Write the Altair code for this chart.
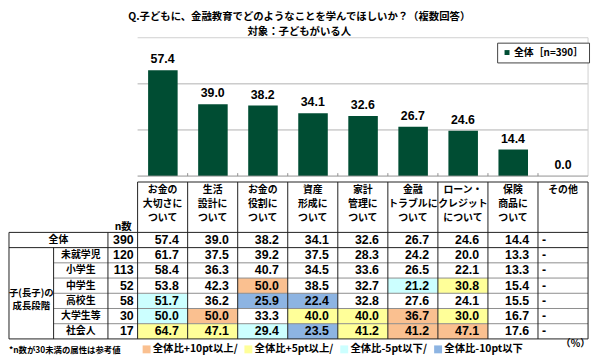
import altair as alt
import pandas as pd

# ---------------- data ----------------
categories = ["お金の\n大切さに\nついて", "生活\n設計に\nついて", "お金の\n役割に\nついて",
              "資産\n形成に\nついて", "家計\n管理に\nついて", "金融\nトラブルに\nついて",
              "ローン・\nクレジット\nについて", "保険\n商品に\nついて", "その他"]
overall = [57.4, 39.0, 38.2, 34.1, 32.6, 26.7, 24.6, 14.4, 0.0]
series_label = "全体［n=390］"
y_ticks = [0, 25, 50, 75]

row_labels = ["全体", "未就学児", "小学生", "中学生", "高校生", "大学生等", "社会人"]
n_counts = [390, 120, 113, 52, 58, 30, 17]
table_values = [
    [57.4, 39.0, 38.2, 34.1, 32.6, 26.7, 24.6, 14.4, None],
    [61.7, 37.5, 39.2, 37.5, 28.3, 24.2, 20.0, 13.3, None],
    [58.4, 36.3, 40.7, 34.5, 33.6, 26.5, 22.1, 13.3, None],
    [53.8, 42.3, 50.0, 38.5, 32.7, 21.2, 30.8, 15.4, None],
    [51.7, 36.2, 25.9, 22.4, 32.8, 27.6, 24.1, 15.5, None],
    [50.0, 50.0, 33.3, 40.0, 40.0, 36.7, 30.0, 16.7, None],
    [64.7, 47.1, 29.4, 23.5, 41.2, 41.2, 47.1, 17.6, None],
]
group_label = "子(長子)の\n成長段階"
n_header = "n数"
footnote = "*n数が30未満の属性は参考値"
unit_note = "（%）"
legend_levels = ["全体比+10pt以上/", "全体比+5pt以上/", "全体比-5pt以下/", "全体比-10pt以下"]
legend_colors = ["#FAC090", "#FFFF99", "#CCFFFF", "#8DB4E2"]
title_text = "Q.子どもに、金融教育でどのようなことを学んでほしいか？（複数回答）"
subtitle_text = "対象：子どもがいる人"

# ---------------- layout / style ----------------
JP = "Noto Sans CJK JP"
NUM = "Liberation Sans"
BAR_COLOR = "#004D33"
NCOL = len(categories)
COLW = 50.65
W = 586
XMIN = -(W - COLW * NCOL) / COLW
XMAX = NCOL
X_GROUP_END = -85 / COLW
X_ROWLAB_END = -30 / COLW
TOP_H = 140
BOT_H = 180
RH = 15.4
HEAD_GAP = 56
YMIN = -HEAD_GAP / RH
YMAX = (BOT_H - HEAD_GAP) / RH
HEADER_TOP = -51 / RH
HEADER_TEXT = -48 / RH
NHEAD_Y = -5 / RH
FOOT_Y = 119 / RH
UNIT_Y = 113 / RH

xscale = alt.Scale(domain=[XMIN, XMAX], nice=False, zero=False)
yscale_top = alt.Scale(domain=[0, 75], nice=False, zero=False)
yscale_bot = alt.Scale(domain=[YMIN, YMAX], nice=False, zero=False, reverse=True)


def X(f):
    return alt.X(f, type="quantitative", scale=xscale, axis=None)


def YT(f):
    return alt.Y(f, type="quantitative", scale=yscale_top, axis=None)


def YB(f):
    return alt.Y(f, type="quantitative", scale=yscale_bot, axis=None)


# ---------------- top: bar chart ----------------
bars_df = pd.DataFrame({"idx": list(range(NCOL)), "value": overall,
                        "series": [series_label] * NCOL})

bars = alt.Chart(bars_df).transform_calculate(
    bx0="datum.idx + 0.21", bx1="datum.idx + 0.80"
).mark_bar(color=BAR_COLOR).encode(
    x=X("bx0"), x2="bx1:Q",
    y=alt.Y("value:Q", scale=yscale_top,
            axis=alt.Axis(values=y_ticks, offset=-130, labelExpr="datum.value + '%'",
                          grid=False, domainColor="#A0A0A0", tickColor="#A0A0A0",
                          tickSize=4, labelPadding=3, labelFont=NUM, labelFontSize=11,
                          labelFontWeight="bold", labelColor="black", title=None)),
    y2=alt.datum(0),
    color=alt.Color("series:N", scale=alt.Scale(range=[BAR_COLOR]),
                    legend=alt.Legend(title=None, orient="none", legendX=494, legendY=5,
                                      strokeColor="#404040", fillColor="white", padding=5,
                                      symbolType="square", symbolSize=25, symbolStrokeWidth=0,
                                      labelFont=JP, labelFontSize=10, labelFontWeight="bold",
                                      labelColor="black", labelOffset=2)),
)

bar_labels = alt.Chart(bars_df).transform_calculate(cx="datum.idx + 0.5").mark_text(
    font=NUM, fontSize=12.5, fontWeight="bold", dy=-11, baseline="middle", color="black"
).encode(x=X("cx"), y=YT("value"), text=alt.Text("value:Q", format=".1f"))

grid_df = pd.DataFrame({"v": y_ticks[1:-1], "x0": 0, "x1": NCOL})
grid = alt.Chart(grid_df).mark_rule(color="#B0B0B0", strokeWidth=1).encode(
    x=X("x0"), x2="x1:Q", y=YT("v"))

frame_df = pd.DataFrame({"x0": [0, NCOL], "x1": [NCOL, NCOL],
                         "y0": [y_ticks[-1], 0], "y1": [y_ticks[-1], y_ticks[-1]]})
frame = alt.Chart(frame_df).mark_rule(color="#D0D0D0", strokeWidth=1).encode(
    x=X("x0"), x2="x1:Q", y=YT("y0"), y2="y1:Q")

base_df = pd.DataFrame({"x0": [0], "x1": [NCOL], "y": [0]})
baseline_rule = alt.Chart(base_df).mark_rule(color="#909090", strokeWidth=1).encode(
    x=X("x0"), x2="x1:Q", y=YT("y"))

ticks_df = pd.DataFrame({"b": list(range(1, NCOL)), "y0": 0, "y1": 1.6})
xticks = alt.Chart(ticks_df).mark_rule(color="#909090").encode(
    x=X("b"), y=YT("y0"), y2="y1:Q")

top = alt.layer(grid, frame, bars, baseline_rule, xticks, bar_labels).properties(
    width=W, height=TOP_H)

# ---------------- bottom: table ----------------
cells = []
hl = []
for r, (lab, row) in enumerate(zip(row_labels, table_values)):
    for c, v in enumerate(row):
        cells.append({"r": r, "c": c, "txt": "-" if v is None else f"{v:.1f}",
                      "isdash": v is None})
        if r > 0 and v is not None:
            d = round(v - table_values[0][c], 1)
            lvl = None
            if d >= 10:
                lvl = legend_levels[0]
            elif d >= 5:
                lvl = legend_levels[1]
            elif d <= -10:
                lvl = legend_levels[3]
            elif d <= -5:
                lvl = legend_levels[2]
            if lvl:
                hl.append({"r": r, "c": c, "level": lvl})
cells_df = pd.DataFrame(cells)
hl_df = pd.DataFrame(hl)

highlight = alt.Chart(hl_df).transform_calculate(
    c1="datum.c + 1", r1="datum.r + 1"
).mark_rect(strokeWidth=0).encode(
    x=X("c"), x2="c1:Q", y=YB("r"), y2="r1:Q",
    color=alt.Color("level:N", scale=alt.Scale(domain=legend_levels, range=legend_colors),
                    legend=alt.Legend(title=None, orient="none", direction="horizontal",
                                      columns=4, legendX=134, legendY=169, padding=0,
                                      symbolType="square", symbolSize=64, symbolStrokeWidth=0,
                                      labelFont=JP, labelFontSize=10.5, labelFontWeight="bold",
                                      labelColor="black", labelOffset=1, columnPadding=5,
                                      labelLimit=200)),
)

# grid lines of the table
nrows = len(row_labels)
dark = []
light = []
# verticals
dark.append((XMIN, XMIN, 0, nrows))
dark.append((X_GROUP_END, X_GROUP_END, 1, nrows))
dark.append((X_ROWLAB_END, X_ROWLAB_END, 0, nrows))
for b in range(0, NCOL + 1):
    dark.append((b, b, HEADER_TOP, nrows))
# horizontals
dark.append((0, NCOL, HEADER_TOP, HEADER_TOP))
dark.append((XMIN, NCOL, 0, 0))
dark.append((XMIN, NCOL, 1, 1))
dark.append((XMIN, NCOL, nrows, nrows))
for r in range(2, nrows):
    light.append((X_GROUP_END, NCOL, r, r))
dark_df = pd.DataFrame(dark, columns=["x0", "x1", "y0", "y1"])
light_df = pd.DataFrame(light, columns=["x0", "x1", "y0", "y1"])
lines_light = alt.Chart(light_df).mark_rule(color="#8C8C8C", strokeWidth=1).encode(
    x=X("x0"), x2="x1:Q", y=YB("y0"), y2="y1:Q")
lines_dark = alt.Chart(dark_df).mark_rule(color="#202020", strokeWidth=1).encode(
    x=X("x0"), x2="x1:Q", y=YB("y0"), y2="y1:Q")

head_df = pd.DataFrame({"idx": list(range(NCOL)), "label": categories, "y": HEADER_TEXT})
head_text = alt.Chart(head_df).transform_calculate(cx="datum.idx + 0.5").mark_text(
    font=JP, fontSize=10, fontWeight="bold", lineBreak="\n", lineHeight=14,
    baseline="top", align="center", color="black"
).encode(x=X("cx"), y=YB("y"), text="label:N")

nhead = alt.Chart(pd.DataFrame({"x": [0], "y": [NHEAD_Y], "t": [n_header]})).mark_text(
    font=JP, fontSize=10.5, fontWeight="bold", align="right", dx=-6, baseline="middle",
    color="black").encode(x=X("x"), y=YB("y"), text="t:N")

rows_df = pd.DataFrame({"r": list(range(nrows)), "label": row_labels, "n": n_counts})
rows_df["x"] = [(XMIN + X_ROWLAB_END) / 2] + [(X_GROUP_END + X_ROWLAB_END) / 2] * (nrows - 1)
rows_df["ym"] = rows_df["r"] + 0.5
rows_df["xn"] = 0
row_text = alt.Chart(rows_df).mark_text(
    font=JP, fontSize=10, fontWeight="bold", baseline="middle", align="center",
    color="black").encode(x=X("x"), y=YB("ym"), text="label:N")
n_text = alt.Chart(rows_df).mark_text(
    font=NUM, fontSize=12.5, fontWeight="bold", baseline="middle", align="right", dx=-4,
    color="black").encode(x=X("xn"), y=YB("ym"), text="n:Q")

grp_df = pd.DataFrame({"x": [(XMIN + X_GROUP_END) / 2], "y": [(1 + nrows) / 2],
                       "t": [group_label]})
grp_text = alt.Chart(grp_df).mark_text(
    font=JP, fontSize=9.5, fontWeight="bold", baseline="middle", align="center",
    lineBreak="\n", lineHeight=13, color="black").encode(x=X("x"), y=YB("y"), text="t:N")

num_text = alt.Chart(cells_df).transform_filter("!datum.isdash").transform_calculate(
    cx="datum.c + 1", ym="datum.r + 0.5"
).mark_text(font=NUM, fontSize=12.5, fontWeight="bold", baseline="middle", align="right",
            dx=-9, color="black").encode(x=X("cx"), y=YB("ym"), text="txt:N")
dash_text = alt.Chart(cells_df).transform_filter("datum.isdash").transform_calculate(
    ym="datum.r + 0.5"
).mark_text(font=NUM, fontSize=12.5, fontWeight="bold", baseline="middle", align="left",
            dx=4, color="black").encode(x=X("c"), y=YB("ym"), text="txt:N")

foot = alt.Chart(pd.DataFrame({"x": [XMIN], "y": [FOOT_Y], "t": [footnote]})).mark_text(
    font=JP, fontSize=8.5, fontWeight="bold", align="left", baseline="middle",
    color="black").encode(x=X("x"), y=YB("y"), text="t:N")
unit = alt.Chart(pd.DataFrame({"x": [XMAX], "y": [UNIT_Y], "t": [unit_note]})).mark_text(
    font=JP, fontSize=10, fontWeight="bold", align="right", baseline="middle", dx=2,
    color="black").encode(x=X("x"), y=YB("y"), text="t:N")

bottom = alt.layer(highlight, lines_light, lines_dark, head_text, nhead, row_text, n_text,
                   grp_text, num_text, dash_text, foot, unit).properties(width=W, height=BOT_H)

chart = alt.vconcat(
    top, bottom, spacing=0,
    title=alt.Title(text=title_text, subtitle=subtitle_text, font=JP, fontSize=10.5,
                    fontWeight="bold", color="black", subtitleFont=JP, subtitleFontSize=10.5,
                    subtitleFontWeight="bold", subtitleColor="black", anchor="middle",
                    offset=0, subtitlePadding=4),
).resolve_scale(color="independent").properties(
    padding={"left": 0, "top": 2, "right": 2, "bottom": 0}
).configure_view(strokeWidth=0)

chart.save("out.html", embed_options={"renderer": "svg", "actions": False})
